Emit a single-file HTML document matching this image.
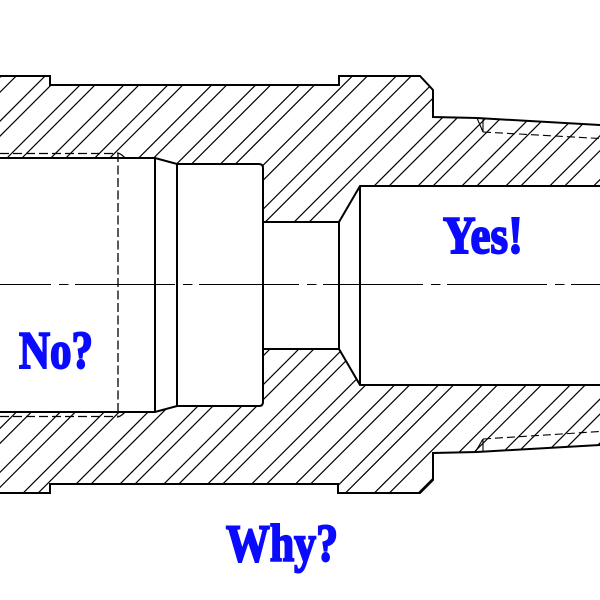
<!DOCTYPE html>
<html>
<head>
<meta charset="utf-8">
<style>
  html,body{margin:0;padding:0;background:#fff;}
  svg{display:block;}
</style>
</head>
<body>
<svg width="600" height="600" viewBox="0 0 600 600" xmlns="http://www.w3.org/2000/svg">
  <defs>
    <clipPath id="ctop">
      <polygon points="0,76 50,76 50,85 339,85 339,76 420,76 433,90 433,117 477,118 600,125 600,186 360,186 339,222 263,222 263,167 260,164 177,164 155,158 0,158"/>
    </clipPath>
    <clipPath id="cbot">
      <polygon points="0,493 50,493 50,484 338,484 338,493 420,493 433,480 433,453 477,452 600,445 600,385 360,385 339,349 263,349 263,403 260,406 177,406 155,412 0,412"/>
    </clipPath>
    <path id="hatch" fill="none" stroke="#000" stroke-width="1.2" d="
      M33.3 0 l-600 600 M48.3 0 l-600 600
      M77.2 0 l-600 600 M92.2 0 l-600 600
      M121.1 0 l-600 600 M136.1 0 l-600 600
      M165 0 l-600 600 M180 0 l-600 600
      M208.9 0 l-600 600 M223.9 0 l-600 600
      M252.8 0 l-600 600 M267.8 0 l-600 600
      M296.7 0 l-600 600 M311.7 0 l-600 600
      M340.6 0 l-600 600 M355.6 0 l-600 600
      M384.5 0 l-600 600 M399.5 0 l-600 600
      M428.4 0 l-600 600 M443.4 0 l-600 600
      M472.3 0 l-600 600 M487.3 0 l-600 600
      M516.2 0 l-600 600 M531.2 0 l-600 600
      M560.1 0 l-600 600 M575.1 0 l-600 600
      M604 0 l-600 600 M619 0 l-600 600
      M647.9 0 l-600 600 M662.9 0 l-600 600
      M691.8 0 l-600 600 M706.8 0 l-600 600
      M735.7 0 l-600 600 M750.7 0 l-600 600
      M779.6 0 l-600 600 M794.6 0 l-600 600
      M823.5 0 l-600 600 M838.5 0 l-600 600
      M867.4 0 l-600 600 M882.4 0 l-600 600
      M911.3 0 l-600 600 M926.3 0 l-600 600
      M955.2 0 l-600 600 M970.2 0 l-600 600
      M999.1 0 l-600 600 M1014.1 0 l-600 600
      M1043 0 l-600 600 M1058 0 l-600 600
      M1086.9 0 l-600 600 M1101.9 0 l-600 600"/>
  </defs>

  <rect width="600" height="600" fill="#fff"/>

  <!-- hatching -->
  <use href="#hatch" clip-path="url(#ctop)"/>
  <use href="#hatch" clip-path="url(#cbot)"/>

  <!-- center line -->
  <line x1="0" y1="284.5" x2="600" y2="284.5" stroke="#000" stroke-width="1.1" stroke-dasharray="100 8 9.5 6.5" stroke-dashoffset="49"/>

  <!-- hidden thread lines (dashed) left -->
  <g fill="none" stroke="#000" stroke-width="1.3">
    <path d="M0 153.5 H115 Q119 151.5 125 158" stroke-dasharray="9 4"/>
    <path d="M0 416.5 H115 Q119 418.5 125 412" stroke-dasharray="9 4"/>
    <line x1="118" y1="153" x2="118" y2="417" stroke-dasharray="9 3.5"/>
  </g>

  <!-- right thread details -->
  <g fill="none" stroke="#000" stroke-width="1.1">
    <line x1="477" y1="118" x2="483" y2="132"/>
    <line x1="483" y1="119.5" x2="483" y2="132"/>
    <line x1="483" y1="132" x2="600" y2="138.5" stroke-dasharray="8 4"/>
    <line x1="475" y1="452.5" x2="483" y2="439"/>
    <line x1="483" y1="439" x2="483" y2="452"/>
    <line x1="483" y1="439" x2="600" y2="431.5" stroke-dasharray="8 4"/>
  </g>

  <!-- main outlines -->
  <g fill="none" stroke="#000" stroke-width="2" stroke-linejoin="miter">
    <polyline points="0,76 50,76 50,85 339,85 339,76 420,76 433,90 433,117 477,118 600,125"/>
    <path d="M0 158 H155 L177 164 H259 Q263 164 263 168 V222 H339 L360 186 H600"/>
    <path d="M0 412 H155 L177 406 H259 Q263 406 263 402 V349 H339 L360 385 H600"/>
    <polyline points="0,493 50,493 50,484 338,484 338,493 420,493 433,480 433,453 477,452 600,445"/>
    <line x1="155" y1="158" x2="155" y2="412"/>
    <line x1="177" y1="164" x2="177" y2="406"/>
    <line x1="263" y1="168" x2="263" y2="402"/>
    <line x1="339" y1="222" x2="339" y2="349"/>
    <line x1="360" y1="186" x2="360" y2="385"/>
  </g>

  <!-- labels -->
  <g font-family="'Liberation Serif', 'DejaVu Serif', serif" font-weight="bold" fill="#0a0aff" stroke="#0a0aff" stroke-width="2" font-size="53">
    <text x="19" y="368" textLength="74" lengthAdjust="spacingAndGlyphs">No?</text>
    <text x="443" y="253" textLength="80" lengthAdjust="spacingAndGlyphs">Yes!</text>
    <text x="226" y="561" textLength="112" lengthAdjust="spacingAndGlyphs">Why?</text>
  </g>
</svg>
</body>
</html>
